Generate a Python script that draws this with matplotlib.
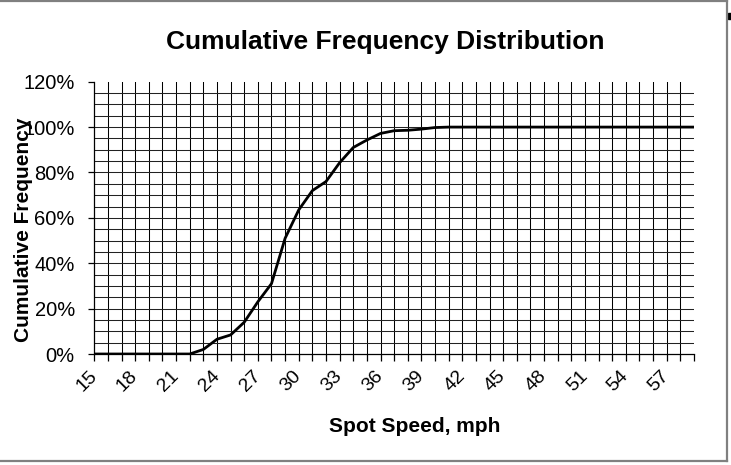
import numpy as np
import matplotlib.pyplot as plt
from matplotlib.patches import Rectangle
from matplotlib.lines import Line2D

# spot speed categories (mph) and cumulative frequency (%)
speeds = list(range(15, 60))
cum_freq = [0, 0, 0, 0, 0, 0, 0, 0,          # 15-22
            2.0, 6.5, 8.4, 14.0, 23.0, 31.0,  # 23-28
            51.0, 63.5, 72.0, 76.0, 84.3,     # 29-33
            91.0, 94.3, 97.2, 98.4, 98.6,     # 34-38
            99.1, 99.8] + [100] * 19          # 39-59
tick_labels = [str(v) for v in range(15, 58, 3)]
y_ticks = [0, 20, 40, 60, 80, 100, 120]

plt.rcParams['font.family'] = ['Liberation Sans', 'DejaVu Sans']

W, H = 731, 465
fig = plt.figure(figsize=(W / 100, H / 100), dpi=100)
ax = fig.add_axes([94.3 / W, 1 - 354 / H, (694 - 94.3) / W, (354 - 81.7) / H])

ax.set_xlim(15, 59)
ax.set_ylim(0, 120)

# gridlines: every category and every 5%
for v in speeds[1:-1]:
    ax.axvline(v, color='black', lw=0.75, zorder=1)
for p in range(5, 120, 5):
    ax.axhline(p, color='#222222', lw=0.75, zorder=1)

ax.plot(speeds, cum_freq, color='black', lw=2.0, zorder=3, solid_joinstyle='round')

ax.spines['top'].set_visible(False)
ax.spines['right'].set_visible(False)
for s in ['left', 'bottom']:
    ax.spines[s].set_linewidth(0.9)

ax.set_xticks(speeds, minor=True)
ax.set_xticks(list(range(15, 58, 3)))
ax.set_xticklabels(tick_labels, rotation=45, ha='right', va='center',
                   rotation_mode='anchor', fontsize=14)
ax.tick_params(axis='x', which='both', direction='out', length=5, width=0.9, pad=9)
ax.set_yticks(y_ticks)
ax.set_yticklabels([f'{p}%' for p in y_ticks], fontsize=14.5)
ax.tick_params(axis='y', direction='out', length=4.5, width=0.9, pad=9.5)

fig.text(385 / W, 1 - 42 / H, 'Cumulative Frequency Distribution',
         ha='center', va='center', fontsize=19, fontweight='bold')
fig.text(415 / W, 1 - 426 / H, 'Spot Speed, mph',
         ha='center', va='center', fontsize=15, fontweight='bold')
fig.text(24 / W, 1 - 230 / H, 'Cumulative Frequency', rotation=90,
         ha='center', va='center', fontsize=15, fontweight='bold')

# chart area border (top, right, bottom)
border = dict(color='#808080', lw=1.6, transform=fig.transFigure)
fig.lines.append(Line2D([0, 726.5 / W], [1 - 0.8 / H, 1 - 0.8 / H], **border))
fig.lines.append(Line2D([726.5 / W, 726.5 / W], [1 - 0.8 / H, 1 - 461 / H], **border))
fig.lines.append(Line2D([0, 726.5 / W], [1 - 461 / H, 1 - 461 / H], **border))
fig.patches.append(Rectangle((727.5 / W, 1 - 19 / H), 4 / W, 6 / H,
                             color='black', transform=fig.transFigure))

fig.savefig('out.png', dpi=100)
